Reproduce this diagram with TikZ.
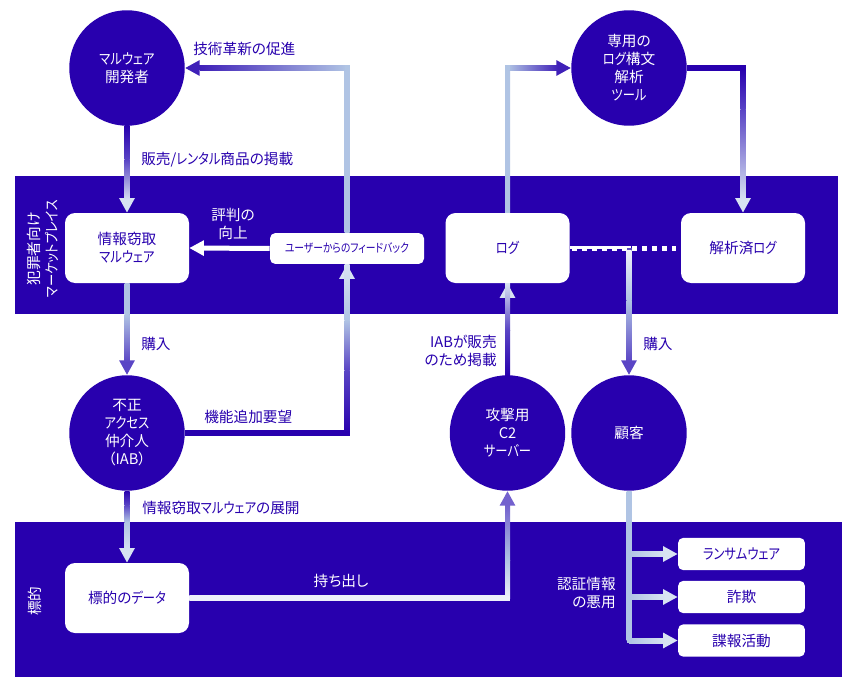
\documentclass[tikz,border=0pt]{standalone}
\usepackage{fontspec}
\usepackage{graphicx}
\usetikzlibrary{calc,arrows.meta}
\newfontfamily\jp[RawFeature=+palt]{Noto Sans CJK JP}
\definecolor{ind}{HTML}{2800AE}
\definecolor{lb}{HTML}{B0C4E4}
\definecolor{pale}{HTML}{D8E3F2}
\definecolor{midc}{HTML}{5A45C5}
\definecolor{hdark}{HTML}{3F20B8}
\definecolor{wh}{HTML}{EEF0FA}
\newcommand\kn[1]{\scalebox{.84}[1]{#1}}
\tikzset{
  jpf/.style={font=\jp\fontsize{11}{13.5}\selectfont},
  circ/.style={circle,fill=ind,text=white,inner sep=0pt,minimum size=86.6pt,align=center,jpf},
  bigbox/.style={rounded corners=7.5pt,fill=white,text=ind,inner sep=0pt,minimum width=93pt,minimum height=52.5pt,align=center,jpf},
  smallbox/.style={rounded corners=4pt,fill=white,text=ind,inner sep=0pt,minimum width=95.2pt,minimum height=24.3pt,align=center,jpf},
  lab/.style={text=ind,inner sep=0pt,jpf,yshift=-0.75pt},
  wlab/.style={text=white,inner sep=0pt,align=center,jpf,yshift=-0.75pt},
  conn/.style={line width=3.75pt,-{Triangle[length=11pt,width=11pt]}},
}
\newcommand\vseg[4]{\shade[top color=#3,bottom color=#4] ($(#1)+(-2.5,0)$) rectangle ($(#2)+(2.5,0)$);}
\newcommand\hseg[4]{\shade[left color=#3,right color=#4] ($(#1)+(0,-2.5)$) rectangle ($(#2)+(0,2.5)$);}
\newcommand\cornerfill[2]{\fill[#2] ($(#1)+(-2.5,-2.5)$) rectangle ($(#1)+(2.5,2.5)$);}
\begin{document}
\begin{tikzpicture}[x=.75pt,y=-.75pt]
\useasboundingbox (0,0) rectangle (854,692);
\fill[white] (0,0) rectangle (854,692);
\fill[ind] (15,176) rectangle (838,314);
\fill[ind] (15,522) rectangle (842,677);
% nodes
\node[circ] (dev) at (127,68) {\kn{マルウェア}\\開発者};
\node[circ] (tool) at (629,68) {専用の\\\kn{ログ}構文\\解析\\\kn{ツール}};
\node[circ] (iab) at (127,433) {不正\\\kn{アクセス}\\仲介人\\（IAB）};
\node[circ] (c2) at (507.5,433) {攻撃用\\C2\\\kn{サーバー}};
\node[circ] (cust) at (629,433) {顧客};
\node[bigbox] (sm) at (127,248) {情報窃取\\\kn{マルウェア}};
\node[bigbox] (log) at (507.5,248) {\kn{ログ}};
\node[bigbox] (parsed) at (743,248) {解析済\kn{ログ}};
\node[bigbox] (tgt) at (127,598) {標的の\kn{データ}};
\node[rounded corners=4pt,fill=white,text=ind,inner sep=0pt,minimum width=115.5pt,minimum height=23.2pt,font=\jp\fontsize{9}{10}\selectfont] (fb) at (347,248.5) {\scalebox{.815}[1]{ユーザーからのフィードバック}};
\node[smallbox] (rw) at (741.5,554) {\kn{ランサムウェア}};
\node[smallbox] (fraud) at (741.5,597) {詐欺};
\node[smallbox] (esp) at (741.5,640.5) {諜報活動};
% corner coordinates
\coordinate (fbc) at (dev.east -| fb.north);
\coordinate (iabc) at (iab.east -| fb.south);
\coordinate (tgtc) at (tgt.east -| c2.south);
\coordinate (logc) at (tool.west -| log.north);
\coordinate (toolc) at (tool.east -| parsed.north);
\coordinate (junc) at (log.east -| cust.north);
\coordinate (c1) at (rw.west -| cust.south);
\coordinate (c2p) at (fraud.west -| cust.south);
\coordinate (c3) at (esp.west -| cust.south);
% dev -> sm
\draw[conn,pale] (dev.south) -- (sm.north);
\vseg{127,126}{127,160}{ind}{midc}
\vseg{127,160}{127,200}{midc}{pale}
% fb -> dev
\draw[conn,hdark] (fb.north) |- (dev.east);
\vseg{fbc}{fb.north}{lb}{lb}
\hseg{200,68}{fbc}{hdark}{lb}
\cornerfill{fbc}{lb}
% fb -> sm
\draw[conn,white] (fb.west) -- (sm.east);
% sm -> iab
\draw[conn,midc] (sm.south) -- (iab.north);
\vseg{127,283}{127,314}{lb}{lb}
\vseg{127,314}{127,362}{lb}{midc}
% iab -> fb
\draw[conn,pale] (iab.east) -| (fb.south);
\hseg{iab.east}{iabc}{ind}{ind}
\vseg{347,370}{iabc}{midc}{ind}
\vseg{347,320}{347,370}{lb}{midc}
\vseg{fb.south}{347,320}{pale}{lb}
\cornerfill{iabc}{ind}
% iab -> tgt
\draw[conn,pale] (iab.south) -- (tgt.north);
\vseg{127,491}{127,505}{ind}{midc}
\vseg{127,505}{127,522}{midc}{lb}
\vseg{127,522}{127,551}{lb}{pale}
% tgt -> c2
\draw[conn,midc!85!white] (tgt.east) -| (c2.south);
\hseg{tgt.east}{tgtc}{wh}{wh}
\vseg{507.5,560}{tgtc}{lb}{wh}
\vseg{507.5,505}{507.5,560}{midc!85!white}{lb}
\cornerfill{tgtc}{wh}
% c2 -> log
\draw[conn,pale] (c2.north) -- (log.south);
\vseg{507.5,330}{c2.north}{midc}{ind}
\vseg{log.south}{507.5,330}{pale}{midc}
% log -> tool
\draw[conn,hdark] (log.north) |- (tool.west);
\vseg{logc}{log.north}{lb}{lb}
\hseg{logc}{558,68}{lb}{hdark}
\cornerfill{logc}{lb}
% tool -> parsed
\draw[conn,pale] (tool.east) -| (parsed.north);
\hseg{tool.east}{toolc}{ind}{ind}
\vseg{toolc}{743,110}{ind}{midc}
\vseg{743,110}{743,200}{midc}{pale}
\cornerfill{toolc}{ind}
% log -- parsed dotted
\draw[white,line width=3.75pt,dash pattern=on 3.75pt off 3.75pt] ($(log.east)+(2.7,0.5)$) -- ($(parsed.west)+(-4.3,0.5)$);
\draw[white,line width=2.6pt] ($(log.east)+(0,-0.3)$) -- ($(junc)+(1.5,-0.3)$);
% junc -> cust
\draw[conn,midc] (junc) -- (cust.north);
\vseg{629,250}{629,300}{wh}{lb}
\vseg{629,300}{629,362}{lb}{midc}
% cust -> branches
\draw[conn,pale] (cust.south) |- (rw.west);
\draw[conn,pale] (cust.south) |- (fraud.west);
\draw[conn,pale] (cust.south) |- (esp.west);
\vseg{cust.south}{c3}{lb}{lb}
\hseg{c1}{665,554}{lb}{pale}
\hseg{c2p}{665,597}{lb}{pale}
\hseg{c3}{665,640.5}{lb}{pale}
\cornerfill{c3}{lb}
% labels
\node[lab,anchor=west] (l1) at (193,48) {技術革新の促進};
\node[lab,anchor=west] (l2) at (141,159) {販売/\kn{レンタル}商品の掲載};
\node[wlab] (l3) at (233,223) {評判の\\向上};
\node[lab,anchor=west] (l4) at (141,343) {購入};
\node[lab,anchor=west] (l5) at (204,416) {機能追加要望};
\node[lab,anchor=west] (l6) at (142,507) {情報窃取\kn{マルウェア}の展開};
\node[wlab] (l7) at (341,580) {持ち出し};
\node[lab,align=right,anchor=east] (l8) at (497,350) {IABが販売\\のため掲載};
\node[lab,anchor=west] (l9) at (643,343) {購入};
\node[wlab,align=right,anchor=east] (l10) at (616,592) {認証情報\\の悪用};
\node[wlab,rotate=90] (b1) at (43,248) {犯罪者向け\\\kn{マーケットプレイス}};
\node[wlab,rotate=90] (b2) at (35,600) {標的};
\end{tikzpicture}
\end{document}
